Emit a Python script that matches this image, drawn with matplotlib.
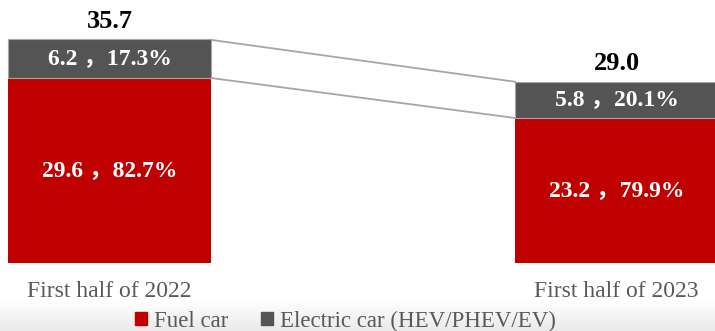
import numpy as np
import matplotlib.pyplot as plt
from matplotlib.patches import Patch
from matplotlib.colors import LinearSegmentedColormap

plt.rcParams['font.family'] = ['Liberation Serif', 'Noto Sans CJK SC']

# --- data ---
periods = ['First half of 2022', 'First half of 2023']
fuel = [29.6, 23.2]
electric = [6.2, 5.8]
fuel_share = [82.7, 79.9]
electric_share = [17.3, 20.1]
totals = [35.7, 29.0]
series_names = ['Fuel car', 'Electric car (HEV/PHEV/EV)']

red = '#C00000'
gray = '#545454'
w = 0.4

fig = plt.figure(figsize=(7.15, 3.31), dpi=100)

# soft gray band along the bottom edge
bg = fig.add_axes([0, 0, 1, 31 / 331], zorder=-1)
grad = np.linspace(0, 1, 64).reshape(-1, 1)
bg.imshow(grad, aspect='auto', origin='lower', extent=[0, 1, 0, 1],
          cmap=LinearSegmentedColormap.from_list('band', ['#EAEAEA', '#FFFFFF']))
bg.axis('off')

ax = fig.add_axes([0, 68 / 331, 1, 263 / 331])
x = np.arange(len(periods))
ax.bar(x, fuel, w, color=red, linewidth=0)
ax.bar(x, electric, w, bottom=fuel, color=gray, edgecolor='#A6A6A6', linewidth=0.8)

# connector lines between the two bars
ax.plot([x[0] + w / 2, x[1] - w / 2], [totals[0], totals[1]], color='#A6A6A6', lw=1.3, zorder=0)
ax.plot([x[0] + w / 2, x[1] - w / 2], [fuel[0], fuel[1]], color='#A6A6A6', lw=1.3, zorder=0)

for i in range(len(periods)):
    ax.text(x[i], fuel[i] / 2, f'{fuel[i]:.1f} ，{fuel_share[i]:.1f}%',
            ha='center', va='center', color='white', fontsize=17, fontweight='bold')
    ax.text(x[i], fuel[i] + electric[i] / 2, f'{electric[i]:.1f} ，{electric_share[i]:.1f}%',
            ha='center', va='center', color='white', fontsize=17, fontweight='bold')
    ax.text(x[i], totals[i] + 2.9, f'{totals[i]:.1f}', ha='center', va='center',
            color='black', fontsize=19, fontweight='bold')
    ax.text(x[i], -4.5, periods[i], ha='center', va='center', color='#595959',
            fontsize=17, clip_on=False)

ax.set_xlim(-109.5 / 507, (715 - 109.5) / 507)
ax.set_ylim(0, 263 / 6.25)
ax.axis('off')

handles = [Patch(color=red), Patch(color=gray)]
fig.legend(handles, series_names, loc='center', bbox_to_anchor=(0.483, 0.03), ncol=2,
           frameon=False, fontsize=16.5, handlelength=0.55, handleheight=0.55,
           handletextpad=0.3, columnspacing=1.4, labelcolor='#595959', borderpad=0)

fig.savefig('out.png', dpi=100)
